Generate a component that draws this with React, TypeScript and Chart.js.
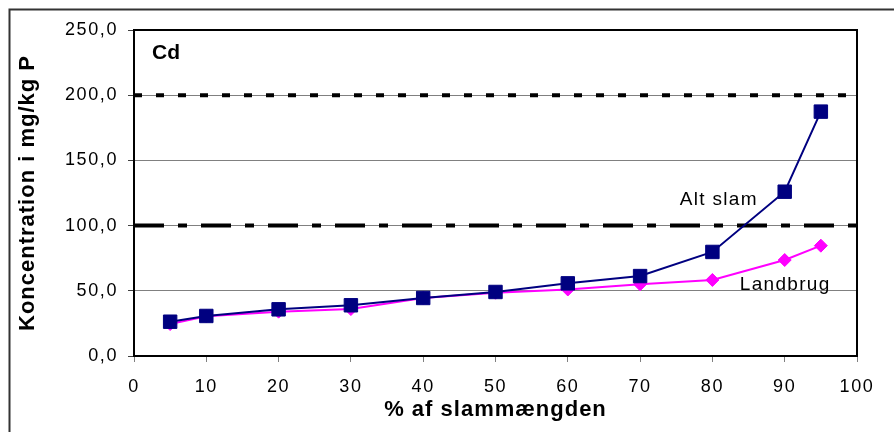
import React, { useEffect, useRef } from 'react';
import { Chart, registerables } from 'chart.js';

Chart.register(...registerables);

// ---- data ----
const xValues = [5, 10, 20, 30, 40, 50, 60, 70, 80, 90, 95];
const altSlam = [26.3, 30.7, 35.8, 38.9, 44.5, 49.1, 55.7, 61.3, 79.8, 126.0, 187.4];
const landbrug = [24.5, 30.5, 34.0, 36.0, 44.5, 48.5, 51.0, 55.0, 58.3, 73.6, 84.6];
const seriesNames = ['Alt slam', 'Landbrug'];
const limitUpper = 200;
const limitLower = 100;
const xRange = [0, 100];
const yRange = [0, 250];
const yStep = 50;
const xStep = 10;
const yTitle = 'Koncentration i mg/kg P';
const xTitle = '% af slammængden';
const panelLabel = 'Cd';
// annotations in data coordinates: [text, x, y]
const annotations: [string, number, number, string, string][] = [
  [panelLabel, 2.5, 232, 'bold 21px "Liberation Sans", Arial, sans-serif', '0px'],
  [seriesNames[0], 75.5, 119.5, '19px "Liberation Sans", Arial, sans-serif', '1.3px'],
  [seriesNames[1], 83.8, 54.5, '19px "Liberation Sans", Arial, sans-serif', '1.3px'],
];

const FONT = '"Liberation Sans", Arial, sans-serif';

export default function App() {
  const ref = useRef<HTMLCanvasElement | null>(null);

  useEffect(() => {
    const canvas = ref.current;
    if (!canvas) return;

    const framePlugin = {
      id: 'frame',
      beforeDraw(chart: any) {
        const ctx = chart.ctx;
        ctx.save();
        ctx.fillStyle = '#ffffff';
        ctx.fillRect(0, 0, chart.width, chart.height);
        ctx.strokeStyle = '#333333';
        ctx.lineWidth = 2;
        ctx.beginPath();
        ctx.moveTo(9.5, chart.height + 10);
        ctx.lineTo(9.5, 9.5);
        ctx.lineTo(chart.width + 10, 9.5);
        ctx.stroke();
        ctx.restore();
        // spacing for axis titles (drawn in the grid layer)
        ctx.letterSpacing = '1px';
      },
      afterDatasetsDraw(chart: any) {
        const ctx = chart.ctx;
        const a = chart.chartArea;
        ctx.save();
        ctx.strokeStyle = '#000000';
        ctx.lineWidth = 2;
        ctx.beginPath();
        ctx.moveTo(a.left, a.top);
        ctx.lineTo(a.right, a.top);
        ctx.lineTo(a.right, a.bottom);
        ctx.stroke();
        const xs = chart.scales.x;
        const ys = chart.scales.y;
        ctx.fillStyle = '#000000';
        ctx.textAlign = 'left';
        ctx.textBaseline = 'middle';
        for (const [text, x, y, font, sp] of annotations) {
          ctx.font = font;
          ctx.letterSpacing = sp;
          ctx.fillText(text, xs.getPixelForValue(x), ys.getPixelForValue(y));
        }
        ctx.restore();
        // spacing for tick labels (drawn in the tick layer, z > 0)
        ctx.letterSpacing = '1.6px';
      },
      afterDraw(chart: any) {
        chart.ctx.letterSpacing = '0px';
      },
    };

    const chart = new Chart(canvas, {
      type: 'line',
      data: {
        datasets: [
          {
            label: seriesNames[0],
            data: xValues.map((x, i) => ({ x, y: altSlam[i] })),
            borderColor: '#000080',
            backgroundColor: '#000080',
            borderWidth: 2,
            pointStyle: 'rect',
            pointRadius: 9.5,
            pointBorderWidth: 1,
            pointBorderColor: '#000080',
            pointBackgroundColor: '#000080',
            tension: 0,
          },
          {
            label: seriesNames[1],
            data: xValues.map((x, i) => ({ x, y: landbrug[i] })),
            borderColor: '#ff00ff',
            backgroundColor: '#ff00ff',
            borderWidth: 2,
            pointStyle: 'rectRot',
            pointRadius: 6.5,
            pointBorderWidth: 1,
            pointBorderColor: '#ff00ff',
            pointBackgroundColor: '#ff00ff',
            tension: 0,
          },
          {
            label: 'limit200',
            data: xRange.map((x) => ({ x, y: limitUpper })),
            borderColor: '#000000',
            borderWidth: 4,
            borderDash: [8, 14],
            pointRadius: 0,
            borderCapStyle: 'butt',
          },
          {
            label: 'limit100',
            data: xRange.map((x) => ({ x, y: limitLower })),
            borderColor: '#000000',
            borderWidth: 4,
            borderDash: [30, 14, 9, 14],
            pointRadius: 0,
            borderCapStyle: 'butt',
          },
        ],
      },
      options: {
        animation: false,
        responsive: false,
        devicePixelRatio: 1,
        layout: { padding: { top: 30, right: 37, left: 0, bottom: 0 } },
        plugins: {
          legend: { display: false },
          tooltip: { enabled: false },
          title: { display: false },
        },
        scales: {
          x: {
            type: 'linear',
            min: xRange[0],
            max: xRange[1],
            afterFit: (s: any) => {
              s.height = 76;
            },
            ticks: {
              stepSize: xStep,
              color: '#000000',
              padding: 14,
              maxRotation: 0,
              z: 1,
              font: { family: FONT, size: 18 },
            },
            grid: {
              drawOnChartArea: false,
              drawTicks: true,
              tickLength: 6,
              tickColor: '#808080',
            },
            border: { color: '#000000', width: 2 },
            title: {
              display: true,
              text: xTitle,
              color: '#000000',
              font: { family: FONT, size: 22, weight: 'bold' },
              padding: { top: 0, bottom: 9 },
            },
          },
          y: {
            type: 'linear',
            min: yRange[0],
            max: yRange[1],
            afterFit: (s: any) => {
              s.width = 134;
            },
            ticks: {
              stepSize: yStep,
              color: '#000000',
              padding: 10,
              z: 1,
              font: { family: FONT, size: 18 },
              callback: (v: any) => Number(v).toFixed(1).replace('.', ','),
            },
            grid: {
              color: (c: any) =>
                c.tick && (c.tick.value === yRange[0] || c.tick.value === yRange[1])
                  ? 'rgba(0,0,0,0)'
                  : '#808080',
              lineWidth: 1,
              tickLength: 6,
              tickColor: '#404040',
            },
            border: { color: '#000000', width: 2 },
            title: {
              display: true,
              text: yTitle,
              color: '#000000',
              font: { family: FONT, size: 22, weight: 'bold' },
              padding: { top: 15, bottom: 0 },
            },
          },
        },
      },
      plugins: [framePlugin],
    } as any);

    return () => chart.destroy();
  }, []);

  return (
    <div style={{ position: 'fixed', left: 0, top: 0, width: 894, height: 432, background: '#fff' }}>
      <canvas ref={ref} width={894} height={432} style={{ display: 'block', width: 894, height: 432 }} />
    </div>
  );
}
